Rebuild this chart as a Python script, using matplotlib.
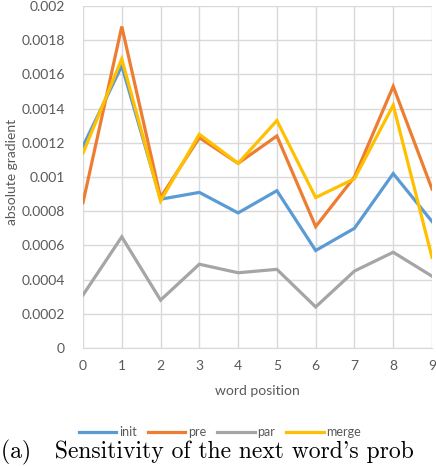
import matplotlib
matplotlib.use('Agg')
import matplotlib.pyplot as plt

# word positions and absolute gradient per model
positions = [0, 1, 2, 3, 4, 5, 6, 7, 8, 9]
init_vals = [0.00118, 0.00165, 0.00087, 0.00091, 0.00079, 0.00092, 0.00057, 0.00070, 0.00102, 0.00074]
pre_vals = [0.00085, 0.00188, 0.00088, 0.00123, 0.00108, 0.00124, 0.00071, 0.00100, 0.00153, 0.00093]
par_vals = [0.00031, 0.00065, 0.00028, 0.00049, 0.00044, 0.00046, 0.00024, 0.00045, 0.00056, 0.00042]
merge_vals = [0.00114, 0.00169, 0.00086, 0.00125, 0.00108, 0.00133, 0.00088, 0.00099, 0.00142, 0.00053]

y_ticks = [0, 0.0002, 0.0004, 0.0006, 0.0008, 0.001, 0.0012, 0.0014, 0.0016, 0.0018, 0.002]
y_labels = ['0', '0.0002', '0.0004', '0.0006', '0.0008', '0.001', '0.0012', '0.0014', '0.0016', '0.0018', '0.002']

series = [
    ('init', init_vals, '#5B9BD5'),
    ('pre', pre_vals, '#ED7D31'),
    ('par', par_vals, '#A5A5A5'),
    ('merge', merge_vals, '#FFC000'),
]

plt.rcParams['font.family'] = ['Lato', 'DejaVu Sans']
text_color = '#595959'
grid_color = '#D9D9D9'

fig = plt.figure(figsize=(4.36, 4.66), dpi=100)
ax = fig.add_axes([83 / 436, 1 - 348 / 466, (432 - 83) / 436, (348 - 6) / 466])

for name, vals, color in series:
    ax.plot(positions, vals, color=color, linewidth=2.3, label=name, solid_joinstyle='miter')

ax.set_xlim(0, 9)
ax.set_ylim(0, 0.002)
ax.set_xticks(positions)
ax.set_yticks(y_ticks)
ax.set_yticklabels(y_labels)
ax.grid(True, color=grid_color, linewidth=1)
ax.set_axisbelow(True)
for side in ['top', 'right', 'left']:
    ax.spines[side].set_visible(False)
ax.spines['bottom'].set_color(grid_color)
ax.tick_params(length=0, colors=text_color, labelsize=10)
ax.tick_params(axis='y', pad=13)
ax.tick_params(axis='x', pad=9)

ax.set_xlabel('word position', color=text_color, fontsize=10, labelpad=9)
fig.text(12 / 436, 1 - 172 / 466, 'absolute gradient', rotation=90, color=text_color,
         fontsize=10, ha='center', va='center')

leg = fig.legend(loc='center', bbox_to_anchor=(220 / 436, 1 - 432 / 466), ncol=4, frameon=False,
                 fontsize=9, handlelength=3.0, handletextpad=0.2, columnspacing=0.9,
                 labelcolor=text_color)

# caption, visible part only (the source is cropped at the right edge)
fig.text(1 / 436, 8 / 466, "(a)   Sensitivity of the next word's prob",
         fontfamily='cmr10', fontsize=17.0, ha='left', va='baseline', color='black')

fig.savefig('out.png', dpi=100)
